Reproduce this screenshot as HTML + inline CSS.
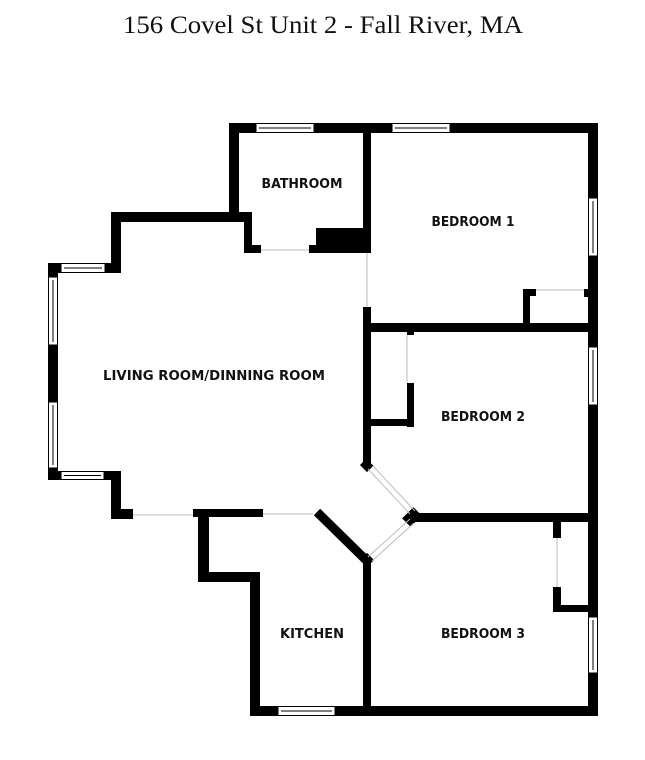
<!DOCTYPE html>
<html><head><meta charset="utf-8"><style>
html,body{margin:0;padding:0;background:#fff;}
svg{display:block;}
.l{font-family:"DejaVu Sans","Liberation Sans",sans-serif;font-weight:bold;font-size:13.5px;fill:#111;text-anchor:middle;}
</style></head><body>
<svg width="645" height="760" viewBox="0 0 645 760" xmlns="http://www.w3.org/2000/svg">
<text x="323" y="33" font-family="Liberation Serif, serif" font-size="25" fill="#111" text-anchor="middle" textLength="400" lengthAdjust="spacingAndGlyphs">156 Covel St Unit 2 - Fall River, MA</text>
<g fill="#000">
<rect x="229" y="123" width="369" height="10"/>
<rect x="588" y="123" width="10" height="593"/>
<rect x="250" y="706" width="348" height="10"/>
<rect x="229" y="123" width="10" height="99"/>
<rect x="111" y="212" width="135" height="10"/>
<rect x="244" y="212" width="8" height="41"/>
<rect x="244" y="245" width="17" height="8"/>
<rect x="309" y="245" width="61" height="8"/>
<rect x="316" y="228" width="54" height="25"/>
<rect x="363" y="123" width="8" height="130"/>
<rect x="363" y="307" width="8" height="160"/>
<rect x="111" y="212" width="10" height="61"/>
<rect x="48" y="263" width="73" height="10"/>
<rect x="48" y="263" width="10" height="217"/>
<rect x="48" y="471" width="73" height="9"/>
<rect x="111" y="471" width="10" height="48"/>
<rect x="111" y="509" width="22" height="10"/>
<rect x="193" y="509" width="70" height="8"/>
<rect x="198" y="509" width="11" height="73"/>
<rect x="198" y="572" width="61" height="10"/>
<rect x="250" y="572" width="10" height="144"/>
<rect x="363" y="560" width="8" height="150"/>
<rect x="363" y="323" width="235" height="9"/>
<rect x="413" y="513" width="185" height="9"/>
<rect x="407" y="331" width="7" height="4"/>
<rect x="407" y="383" width="7" height="44"/>
<rect x="370" y="419" width="44" height="7"/>
<rect x="523" y="289" width="7" height="38"/>
<rect x="523" y="289" width="13" height="7"/>
<rect x="584" y="289" width="5" height="8"/>
<rect x="553" y="520" width="8" height="18"/>
<rect x="553" y="587" width="8" height="25"/>
<rect x="553" y="605" width="37" height="7"/>
</g>
<line x1="317" y1="512" x2="368" y2="562" stroke="#000" stroke-width="9"/>
<rect x="406" y="509" width="12" height="16" fill="#000" transform="rotate(45 412 517)"/>
<rect x="362" y="461" width="10" height="9" fill="#000" transform="rotate(45 367 465)"/>
<rect x="362" y="555" width="10" height="10" fill="#000" transform="rotate(45 367 560)"/>
<g stroke="#bbb" stroke-width="1" fill="none">
<line x1="368" y1="469" x2="410" y2="514"/><line x1="373" y1="466" x2="415" y2="511"/>
<line x1="368" y1="557" x2="410" y2="519"/><line x1="372" y1="561" x2="414" y2="523"/>
<line x1="133" y1="515" x2="193" y2="515"/>
<line x1="263" y1="514" x2="313" y2="514"/>
<line x1="261" y1="250" x2="309" y2="250"/>
<line x1="367" y1="253" x2="367" y2="307"/>
<line x1="407" y1="335" x2="407" y2="383"/>
<line x1="536" y1="290" x2="584" y2="290"/>
<line x1="557" y1="538" x2="557" y2="587"/>
</g>
<g fill="#fff" stroke="#000" stroke-width="1">
<rect x="256" y="123.5" width="58" height="9"/><line x1="259" y1="128" x2="311" y2="128"/>
<rect x="392" y="123.5" width="58" height="9"/><line x1="395" y1="128" x2="447" y2="128"/>
<rect x="588.5" y="198" width="9" height="58"/><line x1="593" y1="201" x2="593" y2="253"/>
<rect x="588.5" y="347" width="9" height="58"/><line x1="593" y1="350" x2="593" y2="402"/>
<rect x="588.5" y="617" width="9" height="56"/><line x1="593" y1="620" x2="593" y2="670"/>
<rect x="278" y="706.5" width="57" height="9"/><line x1="281" y1="711" x2="332" y2="711"/>
<rect x="61" y="263.5" width="44" height="9"/><line x1="64" y1="268" x2="102" y2="268"/>
<rect x="61" y="471.5" width="43" height="8"/><line x1="64" y1="475.5" x2="101" y2="475.5"/>
<rect x="48.5" y="277" width="9" height="68"/><line x1="53" y1="280" x2="53" y2="342"/>
<rect x="48.5" y="402" width="9" height="66"/><line x1="53" y1="405" x2="53" y2="465"/>
</g>
<text class="l" x="302" y="188" textLength="81" lengthAdjust="spacingAndGlyphs">BATHROOM</text>
<text class="l" x="473" y="226" textLength="83" lengthAdjust="spacingAndGlyphs">BEDROOM 1</text>
<text class="l" x="214" y="380" textLength="222" lengthAdjust="spacingAndGlyphs">LIVING ROOM/DINNING ROOM</text>
<text class="l" x="483" y="421" textLength="84" lengthAdjust="spacingAndGlyphs">BEDROOM 2</text>
<text class="l" x="312" y="638" textLength="64" lengthAdjust="spacingAndGlyphs">KITCHEN</text>
<text class="l" x="483" y="638" textLength="84" lengthAdjust="spacingAndGlyphs">BEDROOM 3</text>
</svg>
</body></html>
